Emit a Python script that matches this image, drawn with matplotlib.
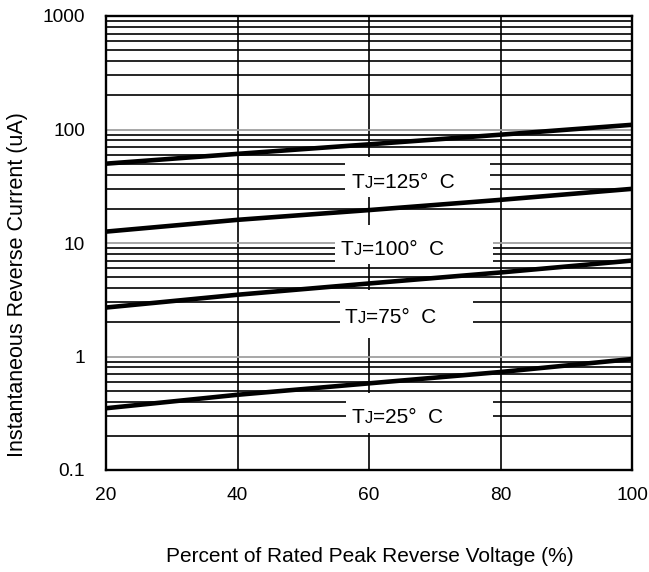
import matplotlib
matplotlib.use("Agg")
import matplotlib.pyplot as plt
from matplotlib.ticker import LogLocator, NullFormatter, FixedLocator, FixedFormatter
from matplotlib.patches import Rectangle

plt.rcParams['font.family'] = ['Liberation Sans', 'DejaVu Sans']

# ---- data ----
x_pct = [20, 40, 60, 80, 100]
ir_125 = [50, 61, 74, 90, 110]
ir_100 = [12.6, 16, 19.5, 24, 30]
ir_75 = [2.7, 3.5, 4.4, 5.5, 7.0]
ir_25 = [0.35, 0.46, 0.58, 0.73, 0.95]

series = [ir_125, ir_100, ir_75, ir_25]
temps = ["125", "100", "75", "25"]

# label boxes (data coords): x0, x1, y0, y1, text x, text y
boxes = [
    (56.3, 78.4, 25.3, 56.9, 57.4, 37.2),
    (54.8, 78.9, 6.5, 14.3, 55.7, 9.5),
    (55.6, 75.8, 1.47, 3.82, 56.3, 2.39),
    (56.5, 78.9, 0.21, 0.48, 57.4, 0.313),
]

y_ticks = [0.1, 1, 10, 100, 1000]
y_labels = ["0.1", "1", "10", "100", "1000"]
x_ticks = [20, 40, 60, 80, 100]

fig = plt.figure(figsize=(6.49, 5.72), dpi=100)
ax = fig.add_axes([106/649, 1-470/572, (632-106)/649, (470-16)/572])

ax.set_yscale('log')
ax.set_xlim(20, 100)
ax.set_ylim(0.1, 1000)

ax.yaxis.set_major_locator(FixedLocator(y_ticks))
ax.yaxis.set_major_formatter(FixedFormatter(y_labels))
ax.yaxis.set_minor_locator(LogLocator(base=10, subs=range(2, 10)))
ax.yaxis.set_minor_formatter(NullFormatter())
ax.xaxis.set_major_locator(FixedLocator(x_ticks))

ax.set_axisbelow(True)
ax.grid(True, which='major', axis='y', color='#a0a0a0', linewidth=1.3)
ax.grid(True, which='minor', axis='y', color='black', linewidth=1.2)
ax.grid(True, which='major', axis='x', color='black', linewidth=1.2)

ax.tick_params(which='both', length=0)
ax.tick_params(axis='y', which='major', pad=15, labelsize=13.8)
ax.tick_params(axis='x', which='major', pad=12, labelsize=13.8)

for s in ax.spines.values():
    s.set_linewidth(1.7)
    s.set_color('black')

for vals in series:
    ax.plot(x_pct, vals, color='black', linewidth=3.3, zorder=3, solid_capstyle='butt')

for (x0, x1, y0, y1, tx, ty), t in zip(boxes, temps):
    ax.add_patch(Rectangle((x0, y0), x1 - x0, y1 - y0, facecolor='white',
                           edgecolor='none', zorder=1.5))

fig.canvas.draw()
renderer = fig.canvas.get_renderer()
fs = 15
inv = ax.transData.inverted()
for (x0, x1, y0, y1, tx, ty), t in zip(boxes, temps):
    t1 = ax.text(tx, ty, "T", fontsize=fs, va='center', ha='left', zorder=4)
    bb = t1.get_window_extent(renderer)
    base_px = bb.y0
    bx, by = inv.transform((bb.x0, base_px))
    t1.set_va('baseline')
    t1.set_position((bx, by))
    bb = t1.get_window_extent(renderer)
    j_x, _ = inv.transform((bb.x1, base_px))
    t2 = ax.text(j_x, by, "J", fontsize=fs * 0.8, va='baseline', ha='left', zorder=4)
    bb2 = t2.get_window_extent(renderer)
    r_x, _ = inv.transform((bb2.x1, base_px))
    ax.text(r_x, by, "=" + t + "°  C", fontsize=fs, va='baseline', ha='left', zorder=4)

fig.text(370/649, 1 - 557/572, "Percent of Rated Peak Reverse Voltage (%)",
         fontsize=15, ha='center', va='center')
fig.text(18/649, 1 - 285/572, "Instantaneous Reverse Current (uA)",
         fontsize=15.5, ha='center', va='center', rotation=90)

fig.savefig("out.png", dpi=100)
